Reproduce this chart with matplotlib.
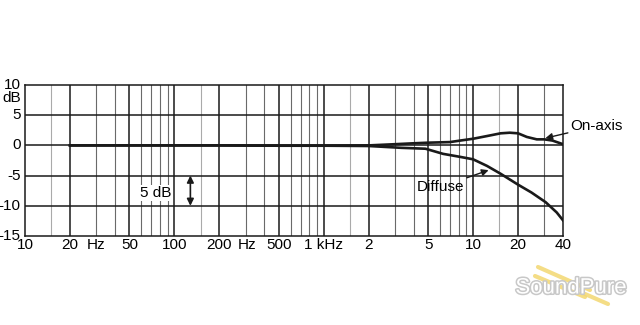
import numpy as np
import matplotlib.pyplot as plt
import matplotlib.transforms as mtransforms
import matplotlib.patheffects as pe

plt.rcParams['font.family'] = ['Liberation Sans', 'DejaVu Sans']

# ---- datos ----
f_on = [20, 50, 100, 200, 500, 1000, 2000, 3000, 4000, 5000, 7000, 8200,
        10000, 12400, 15300, 17600, 20000, 22900, 26700, 30000, 34000, 40000]
on_axis = [0, 0, 0, 0, -0.05, -0.05, 0, 0.2, 0.35, 0.45, 0.55, 0.8,
           1.1, 1.55, 2.0, 2.1, 2.0, 1.4, 1.0, 1.0, 0.8, 0.2]

f_dif = [20, 50, 100, 200, 500, 1000, 2000, 3300, 4800, 6300, 8200, 10000,
         12400, 15300, 20000, 24600, 30600, 36300, 40000]
diffuse = [0, 0, 0, 0, -0.05, -0.05, -0.1, -0.4, -0.55, -1.4, -1.9, -2.3,
           -3.4, -4.7, -6.5, -7.8, -9.4, -11.1, -12.4]

xtick_pos = [10, 20, 50, 100, 200, 500, 1000, 2000, 5000, 10000, 20000, 40000]
xtick_lab = ["10", "20", "50", "100", "200", "500", "1 kHz", "2", "5", "10", "20", "40"]
ytick_pos = [10, 5, 0, -5, -10, -15]

fs = 11

fig = plt.figure(figsize=(6.4, 3.25), dpi=100, facecolor="white")
ax = fig.add_axes([25/640, 1-236/325, (563-25)/640, (236-85)/325])
ax.set_xscale("log")
ax.set_xlim(10, 40000)
ax.set_ylim(-15, 10)

# ---- rejilla ----
for dec in [10, 100, 1000, 10000]:
    for m in range(1, 10):
        f = dec*m
        if f <= 10 or f >= 40000:
            continue
        if m in (1, 2, 5):
            ax.axvline(f, color="#1a1a1a", lw=1.1, zorder=1)
        else:
            ax.axvline(f, color="#6a6a6a", lw=0.8, zorder=1)
    ax.axvline(dec*1.5, color="#aaaaaa", lw=0.8, zorder=1)
for yv in [5, 0, -5, -10]:
    ax.axhline(yv, color="#1a1a1a", lw=1.1, zorder=1)

for s in ax.spines.values():
    s.set_color("#1a1a1a")
    s.set_linewidth(1.1)

ax.set_xticks([])
ax.set_yticks([])
ax.minorticks_off()

# ---- curvas ----
ax.plot(f_on, on_axis, color="#1a1a1a", lw=1.9, zorder=3)
ax.plot(f_dif, diffuse, color="#1a1a1a", lw=1.9, zorder=3)

# ---- etiquetas ----
tx = mtransforms.blended_transform_factory(ax.transData, ax.transAxes)
for p, l in zip(xtick_pos, xtick_lab):
    ax.text(p, -0.06, l, transform=tx, ha="center", va="center", fontsize=fs)
ax.text(26, -0.06, "Hz", transform=tx, ha="left", va="center", fontsize=fs)
ax.text(266, -0.06, "Hz", transform=tx, ha="left", va="center", fontsize=fs)

ty = mtransforms.blended_transform_factory(ax.transAxes, ax.transData)
for yv in ytick_pos:
    ax.text(-0.008, yv, str(yv), transform=ty, ha="right", va="center", fontsize=fs)
ax.text(-0.008, 7.9, "dB", transform=ty, ha="right", va="center", fontsize=fs)

ax.annotate("On-axis", xy=(30500, 1.2), xytext=(45000, 3.2),
            fontsize=fs, va="center", ha="left", annotation_clip=False,
            arrowprops=dict(arrowstyle="-|>", color="#1a1a1a", lw=1.0,
                            mutation_scale=10, shrinkA=0, shrinkB=0))
ax.annotate("Diffuse", xy=(12700, -4.1), xytext=(8700, -6.9),
            fontsize=fs, va="center", ha="right",
            arrowprops=dict(arrowstyle="-|>", color="#1a1a1a", lw=1.0,
                            mutation_scale=10, shrinkA=0, shrinkB=0))

ax.annotate("", xy=(128, -5.0), xytext=(128, -10.0),
            arrowprops=dict(arrowstyle="<|-|>", color="#1a1a1a", lw=1.2,
                            mutation_scale=10, shrinkA=0, shrinkB=0))
ax.text(96, -7.9, "5 dB", ha="right", va="center", fontsize=fs,
        bbox=dict(facecolor="white", edgecolor="none", pad=1.0), zorder=4)

# ---- marca de agua ----
fork = "#f3d771"
fig.add_artist(plt.Line2D([538/640, 590/640], [1-267/325, 1-290/325], color=fork,
                          lw=3, alpha=0.85, solid_capstyle="round"))
fig.add_artist(plt.Line2D([535/640, 585/640], [1-276/325, 1-297/325], color=fork,
                          lw=3, alpha=0.85, solid_capstyle="round"))
fig.add_artist(plt.Line2D([585/640, 608/640], [1-294/325, 1-304/325], color=fork,
                          lw=3, alpha=0.85, solid_capstyle="round"))
fig.text(571/640, 1-288/325, "SoundPure", ha="center", va="center", fontsize=16,
         color="white", fontstretch="condensed", zorder=5,
         path_effects=[pe.withStroke(linewidth=2.2, foreground="#c8c8c8")])

fig.savefig("out.png", dpi=100, facecolor="white")
